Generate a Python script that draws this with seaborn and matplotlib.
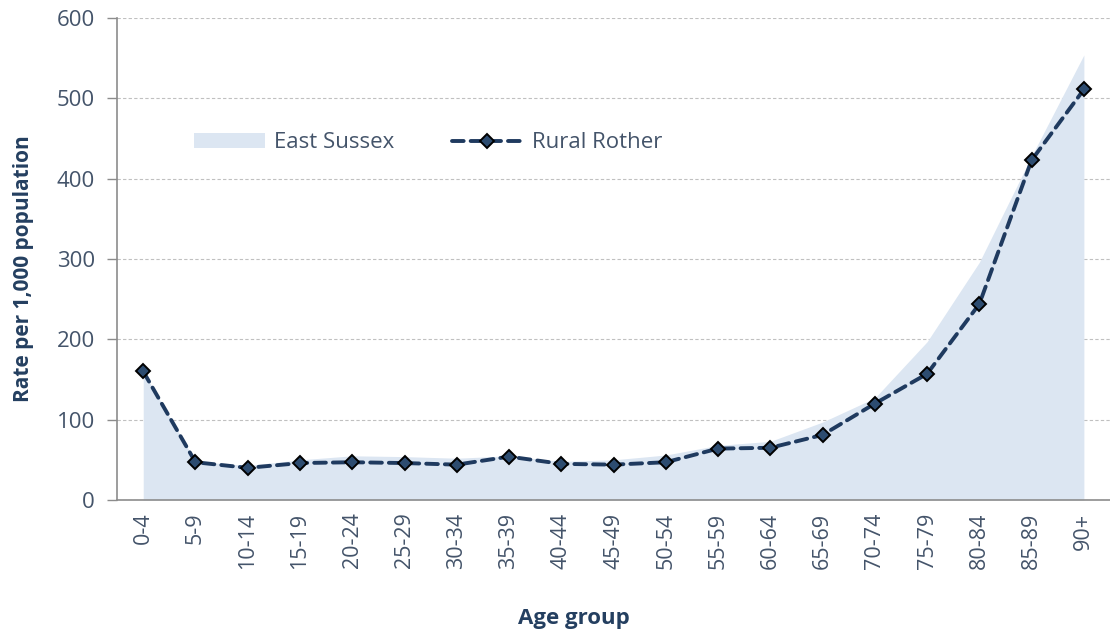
import matplotlib
matplotlib.use("Agg")
import matplotlib.pyplot as plt
import numpy as np
import seaborn as sns
import pandas as pd

age_groups = ["0-4", "5-9", "10-14", "15-19", "20-24", "25-29", "30-34", "35-39",
              "40-44", "45-49", "50-54", "55-59", "60-64", "65-69", "70-74",
              "75-79", "80-84", "85-89", "90+"]
rural_rother = [160, 47, 40, 46, 47, 46, 44, 54, 45, 44, 47, 64, 65, 81, 120,
                157, 244, 423, 511]
east_sussex = [160, 48, 43, 50, 55, 54, 52, 55, 48, 50, 56, 68, 73, 97, 127,
               197, 296, 428, 554]

TEXT = "#44546A"
LABEL = "#243F60"
LINE = "#1F3A5F"
AREA = "#DCE6F2"
SPINE = "#8C8C8C"

sns.set_style("white")
plt.rcParams["font.family"] = ["Open Sans", "DejaVu Sans"]

df = pd.DataFrame({"pos": np.arange(len(age_groups)),
                   "Age group": age_groups,
                   "East Sussex": east_sussex,
                   "Rural Rother": rural_rother})

fig = plt.figure(figsize=(11.1, 6.35), dpi=100)
ax = fig.add_axes([0.1055, 0.2126, 0.8945, 0.7591])

# East Sussex as a filled area, Rural Rother as dashed line with diamonds
ax.fill_between(df["pos"], 0, df["East Sussex"], color=AREA, lw=0,
                label="East Sussex", zorder=1)
sns.lineplot(data=df, x="pos", y="Rural Rother", ax=ax, color=LINE, lw=2.8,
             marker="D", markersize=7.6, markerfacecolor="#2D4C70",
             markeredgecolor="black", markeredgewidth=1.4,
             label="Rural Rother", zorder=3)
ax.lines[-1].set_dashes([3.0, 1.8])
ax.lines[-1].set_dash_capstyle("round")

ax.set_xlim(-0.5, 18.45)
ax.set_ylim(0, 600)
ax.set_yticks(range(0, 601, 100))
ax.yaxis.grid(True, color="#C0C0C0", linestyle=(0, (3, 2)), lw=0.8)
ax.set_axisbelow(True)

ax.set_xticks(df["pos"])
ax.set_xticklabels(age_groups, rotation=90, fontsize=15.5, color=TEXT)
ax.set_xticks(np.arange(-0.5, 18.6, 1), minor=True)
ax.tick_params(axis="x", which="major", length=0, pad=9)
ax.tick_params(axis="x", which="minor", length=6, color=SPINE, width=1)
ax.tick_params(axis="y", length=7, color=SPINE, width=1, labelsize=16,
               labelcolor=TEXT, pad=9, left=True)

for side in ["top", "right"]:
    ax.spines[side].set_visible(False)
for side in ["left", "bottom"]:
    ax.spines[side].set_color(SPINE)
    ax.spines[side].set_linewidth(1.2)

ax.set_xlabel("Age group", fontsize=16, fontweight="bold", color=LABEL, labelpad=28)
ax.set_ylabel("Rate per 1,000 population", fontsize=15, fontweight="bold",
              color=LABEL, labelpad=16)
ax.xaxis.label.set_x(0.46)
ax.yaxis.label.set_y(0.48)

leg = ax.legend(loc="center left", bbox_to_anchor=(0.057, 0.741), ncol=2,
                frameon=False, fontsize=16, handlelength=3.2, handletextpad=0.4,
                columnspacing=2.6)
for t in leg.get_texts():
    t.set_color(TEXT)

fig.savefig("out.png", dpi=100)
